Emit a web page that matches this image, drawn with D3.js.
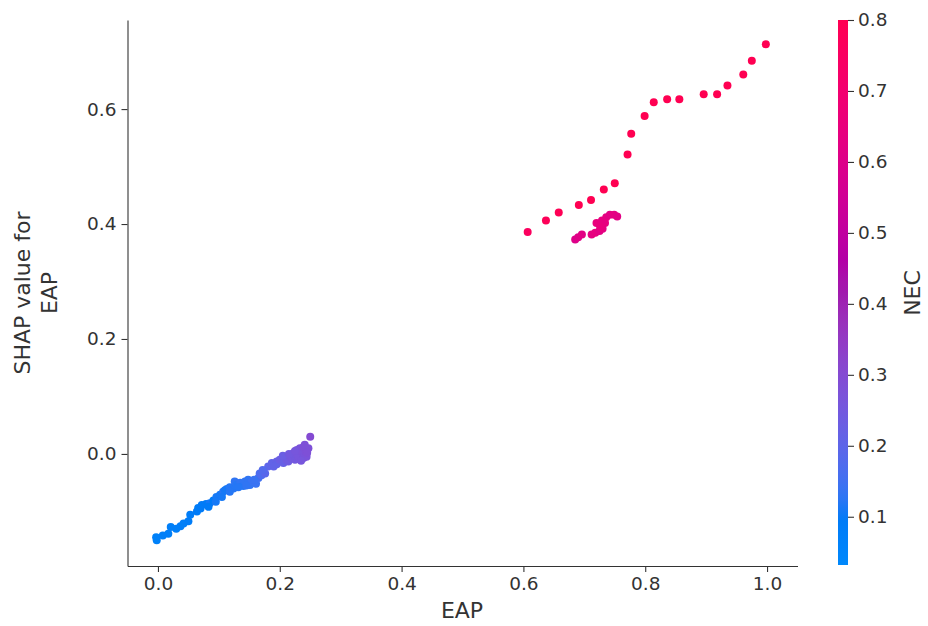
<!DOCTYPE html>
<html>
<head>
<meta charset="utf-8">
<script src="https://cdn.jsdelivr.net/npm/d3@7"></script>
<style>
    body { margin: 0; background: #fff; }
    text { font-family: "DejaVu Sans", sans-serif; fill: #333333; }
</style>
</head>
<body>
<div id="chart-area"></div>
<script>

// EAP feature value (x), SHAP value for EAP (y), NEC value (colour)
const eapValues = [
    -0.003, -0.002, 0.017, 0.021, 0.037, 0.042, 0.050, 0.053, 0.064, 0.066,
    0.072, 0.079, 0.085, 0.091, 0.096, 0.102, 0.107, 0.110, 0.113, 0.118,
    0.124, 0.126, 0.129, 0.135, 0.140, 0.143, 0.148, 0.151, 0.154, 0.161,
    0.165, 0.167, 0.170, 0.176, 0.181, 0.187, 0.195, 0.195, 0.200, 0.206,
    0.211, 0.214, 0.217, 0.220, 0.222, 0.225, 0.228, 0.228, 0.230, 0.233,
    0.236, 0.239, 0.239, 0.241, 0.241, 0.243, 0.244, 0.247, 0.250,
    0.070, 0.083, 0.095, 0.105, 0.118, 0.132, 0.145, 0.158, 0.172, 0.190,
    0.205, 0.215, 0.225, 0.235, 0.245, 0.030, 0.008,
    0.607, 0.637, 0.658, 0.691, 0.711, 0.732, 0.750, 0.771, 0.777, 0.799,
    0.814, 0.836, 0.856, 0.896, 0.918, 0.935, 0.961, 0.975, 0.998,
    0.685, 0.690, 0.696, 0.712, 0.718, 0.725, 0.730, 0.720, 0.729, 0.736,
    0.742, 0.749, 0.754, 0.734, 0.726
];

const shapValues = [
    -0.145, -0.150, -0.139, -0.127, -0.126, -0.121, -0.117, -0.106, -0.100, -0.094,
    -0.089, -0.087, -0.086, -0.081, -0.075, -0.071, -0.066, -0.063, -0.061, -0.058,
    -0.060, -0.048, -0.054, -0.050, -0.056, -0.048, -0.045, -0.054, -0.048, -0.052,
    -0.042, -0.034, -0.037, -0.034, -0.022, -0.016, -0.013, -0.018, -0.010, -0.016,
    -0.010, -0.013, -0.005, -0.007, 0.001, -0.010, 0.007, -0.008, -0.005, 0.010,
    0.004, 0.012, -0.007, 0.016, -0.002, 0.004, -0.005, 0.010, 0.030,
    -0.095, -0.092, -0.083, -0.075, -0.066, -0.058, -0.055, -0.045, -0.028, -0.022,
    -0.003, 0.000, 0.005, -0.012, 0.002, -0.130, -0.142,
    0.386, 0.406, 0.420, 0.433, 0.442, 0.460, 0.471, 0.521, 0.557, 0.588,
    0.612, 0.617, 0.617, 0.626, 0.626, 0.641, 0.660, 0.684, 0.713,
    0.373, 0.377, 0.382, 0.382, 0.385, 0.388, 0.392, 0.402, 0.406, 0.412,
    0.416, 0.416, 0.413, 0.402, 0.395
];

const necValues = [
    0.07, 0.07, 0.08, 0.08, 0.09, 0.08, 0.09, 0.09, 0.10, 0.09,
    0.10, 0.10, 0.11, 0.10, 0.11, 0.11, 0.12, 0.11, 0.11, 0.12,
    0.12, 0.13, 0.12, 0.13, 0.12, 0.13, 0.13, 0.13, 0.14, 0.14,
    0.15, 0.17, 0.17, 0.19, 0.20, 0.21, 0.22, 0.21, 0.23, 0.22,
    0.24, 0.24, 0.25, 0.25, 0.26, 0.25, 0.27, 0.25, 0.26, 0.27,
    0.27, 0.28, 0.26, 0.28, 0.27, 0.28, 0.27, 0.28, 0.30,
    0.10, 0.10, 0.11, 0.11, 0.12, 0.12, 0.13, 0.14, 0.18, 0.21,
    0.23, 0.25, 0.26, 0.26, 0.28, 0.08, 0.08,
    0.76, 0.78, 0.79, 0.80, 0.80, 0.80, 0.80, 0.80, 0.80, 0.80,
    0.80, 0.80, 0.80, 0.80, 0.80, 0.80, 0.80, 0.80, 0.80,
    0.60, 0.61, 0.62, 0.63, 0.64, 0.62, 0.63, 0.65, 0.64, 0.63,
    0.62, 0.63, 0.62, 0.64, 0.65
];

const xTicks = [0.0, 0.2, 0.4, 0.6, 0.8, 1.0];
const yTicks = [0.0, 0.2, 0.4, 0.6];
const colorTicks = [0.1, 0.2, 0.3, 0.4, 0.5, 0.6, 0.7, 0.8];
const colorDomain = [0.032, 0.8];


// shap "red_blue" colour map, interpolated in LCh with a lightness dip
function redBlue(t) {
    t = Math.max(0, Math.min(1, t));
    let h0 = 4.6588, h1 = 0.35470565 + 2 * Math.PI;
    let l = t < 0.5 ? 54 + (40 - 54) * (t / 0.5) : 40 + (54 - 40) * ((t - 0.5) / 0.5);
    let c = 70 + (90 - 70) * t;
    let h = (h0 + (h1 - h0) * t) * 180 / Math.PI;
    return d3.hcl(h, c, l).formatHex();
}


class DependencePlot {

    constructor(parentElement) {
        this.parentElement = parentElement;
        this.data = eapValues.map((d, i) => ({eap: d, shap: shapValues[i], nec: necValues[i]}));
        this.initVis();
    }

    initVis() {
        let vis = this;

        vis.width = 928;
        vis.height = 626;

        vis.svg = d3.select("#" + vis.parentElement)
            .append("svg")
            .attr("width", vis.width)
            .attr("height", vis.height);

        // Scales
        vis.x = d3.scaleLinear()
            .domain([-0.05, 1.05])
            .range([127.5, 797.5]);

        vis.y = d3.scaleLinear()
            .domain([-0.195, 0.755])
            .range([566, 20]);

        vis.t = d3.scaleLinear()
            .domain(colorDomain)
            .range([0, 1]);

        vis.cy = d3.scaleLinear()
            .domain(colorDomain)
            .range([565, 20]);

        // Axes (left + bottom spines only)
        vis.xAxis = d3.axisBottom(vis.x)
            .tickValues(xTicks)
            .tickFormat(d3.format(".1f"))
            .tickSizeInner(6)
            .tickSizeOuter(0)
            .tickPadding(5);

        vis.yAxis = d3.axisLeft(vis.y)
            .tickValues(yTicks)
            .tickFormat(d3.format(".1f"))
            .tickSizeInner(6)
            .tickSizeOuter(0)
            .tickPadding(5);

        vis.svg.append("g")
            .attr("class", "x-axis axis")
            .attr("transform", "translate(0,566)")
            .call(vis.xAxis);

        vis.svg.append("g")
            .attr("class", "y-axis axis")
            .attr("transform", "translate(127.5,0)")
            .call(vis.yAxis);

        vis.svg.selectAll(".axis path, .axis line")
            .attr("stroke", "#333333")
            .attr("stroke-width", 1.1);

        vis.svg.selectAll(".axis text")
            .attr("font-size", 18.5)
            .attr("fill", "#333333");

        // Axis titles
        vis.svg.append("text")
            .attr("x", 462)
            .attr("y", 618)
            .attr("text-anchor", "middle")
            .attr("font-size", 22)
            .text("EAP");

        let yTitle = vis.svg.append("text")
            .attr("transform", "translate(30,293) rotate(-90)")
            .attr("text-anchor", "middle")
            .attr("font-size", 22);
        yTitle.append("tspan").attr("x", 0).attr("dy", 0).text("SHAP value for");
        yTitle.append("tspan").attr("x", 0).attr("dy", 27).text("EAP");

        vis.drawColorbar();
        vis.updateVis();
    }

    drawColorbar() {
        let vis = this;

        let grad = vis.svg.append("defs")
            .append("linearGradient")
            .attr("id", "cb-grad")
            .attr("x1", 0).attr("y1", 1)
            .attr("x2", 0).attr("y2", 0);

        grad.selectAll("stop")
            .data(d3.range(0, 1.0001, 0.02))
            .enter().append("stop")
            .attr("offset", d => d)
            .attr("stop-color", d => redBlue(d));

        vis.svg.append("rect")
            .attr("x", 838)
            .attr("y", vis.cy(colorDomain[1]))
            .attr("width", 10)
            .attr("height", vis.cy(colorDomain[0]) - vis.cy(colorDomain[1]))
            .attr("fill", "url(#cb-grad)");

        let cAxis = d3.axisRight(vis.cy)
            .tickValues(colorTicks)
            .tickFormat(d3.format(".1f"))
            .tickSizeInner(6)
            .tickSizeOuter(0)
            .tickPadding(4);

        let cg = vis.svg.append("g")
            .attr("class", "c-axis")
            .attr("transform", "translate(848,0)")
            .call(cAxis);

        cg.select(".domain").remove();
        cg.selectAll("line").attr("stroke", "#333333").attr("stroke-width", 1.1);
        cg.selectAll("text").attr("font-size", 18.5).attr("fill", "#333333");

        vis.svg.append("text")
            .attr("transform", "translate(920,293) rotate(-90)")
            .attr("text-anchor", "middle")
            .attr("font-size", 22)
            .text("NEC");
    }

    updateVis() {
        let vis = this;

        vis.svg.append("g")
            .attr("class", "dots")
            .selectAll("circle")
            .data(vis.data)
            .enter().append("circle")
            .attr("cx", d => vis.x(d.eap))
            .attr("cy", d => vis.y(d.shap))
            .attr("r", 4)
            .attr("fill", d => redBlue(vis.t(d.nec)));
    }
}

new DependencePlot("chart-area");

</script>
</body>
</html>
